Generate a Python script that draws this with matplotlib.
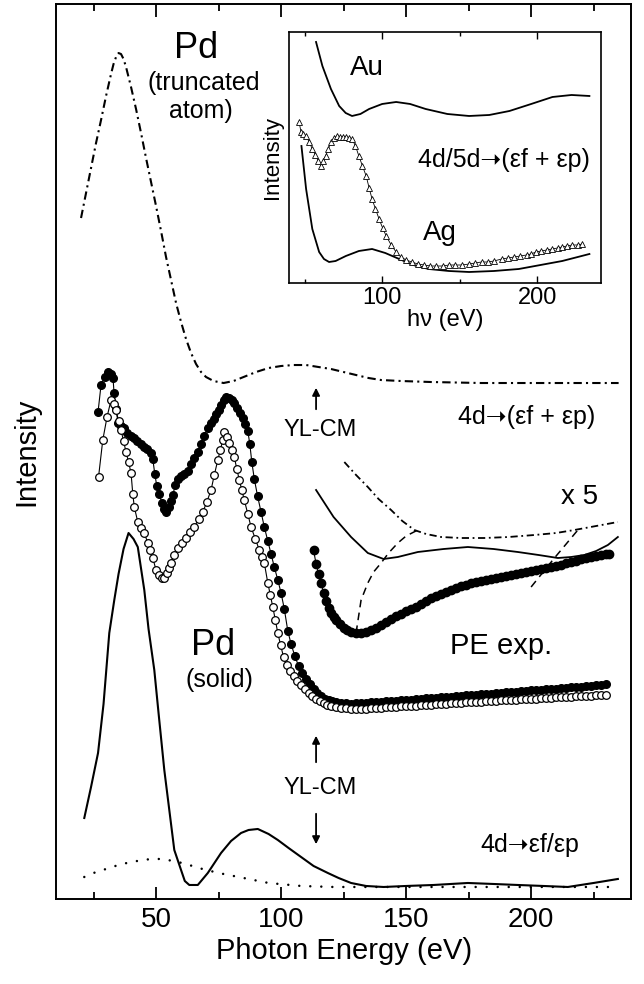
import numpy as np
import matplotlib.pyplot as plt

plt.rcParams['font.family'] = ['Liberation Sans', 'DejaVu Sans']

# ---- main panel data (photon energy in eV, intensity in arb. units) ----
trunc_E = [20, 22, 24, 26, 28, 30, 32, 33, 34, 35, 36, 37, 38, 40, 42, 44, 46, 48, 50, 52,
           54, 56, 58, 60, 62, 64, 66, 68, 70, 73, 77, 81, 85, 90, 95, 100, 105, 110, 115,
           120, 125, 130, 135, 140, 148, 160, 180, 200, 220, 235]
trunc_I = [681, 706, 731, 756, 779, 803, 825, 835, 842, 846, 845, 840, 832, 812, 790, 766, 741,
           717, 693, 668, 642, 619, 596, 577, 560, 546, 535, 527, 522, 518, 516, 518, 522, 527,
           531, 533, 534, 534, 532, 530, 527, 524, 521, 519, 518, 517, 516, 516, 516, 516]

solid_E = [21.3, 24, 26.8, 29, 31.3, 33.3, 35, 37, 39, 41, 42.7, 45.3, 47, 49.3, 51, 53.3, 55,
           57.3, 60, 61.5, 63.3, 66.7, 70.7, 76, 80, 84, 87, 90.7, 95, 98.7, 103, 108, 113,
           118.7, 123, 128, 134, 141, 150, 161, 174.7, 185, 194.7, 205, 214.7, 225, 234.7]
solid_I = [81, 112, 146, 195, 266, 299, 325, 350, 366, 360, 352, 309, 270, 229, 186, 129, 95,
           49, 29, 18, 14, 14, 26, 46, 58, 66, 69, 70, 65, 59, 51, 42, 33, 26, 21, 16, 13, 12,
           13, 14, 16, 15, 14, 13, 12, 16, 20]

dot_E = [21.3, 25, 30, 35, 40, 45, 48, 52, 57, 62, 67, 75, 85, 95, 108, 121, 140, 160, 180,
         200, 220, 235]
dot_I = [22, 26, 30, 34, 37, 39, 40, 40, 38, 35, 31, 26, 21, 16, 13, 12, 12, 12, 12, 12, 12, 12]

tail_E = [122, 124, 126, 128, 130, 132, 134, 136, 138, 140, 142, 144, 146, 148, 150, 152, 154,
          156, 158, 160, 162, 164, 166, 168, 170, 172, 174, 176, 178, 180, 182, 184, 186, 188,
          190, 192, 194, 196, 198, 200, 202, 204, 206, 208, 210, 212, 214, 216, 218, 220, 222,
          224, 226, 228, 230]

full_E = [26.8, 28, 29.5, 30.8, 32, 32.8, 33.2, 34, 34.8, 36, 37.2, 38.5, 40, 41.2, 42.5, 43.8,
          45.2, 46.5, 47.8, 48.7, 49.5, 50.3, 51.3, 52.3, 53.2, 54, 55, 55.8, 56.7, 57.7, 58.7,
          60, 61.3, 62.7, 64, 65.3, 66.7, 68, 69.3, 70.7, 72, 73, 74, 75, 76, 77, 78, 79, 80.2,
          81.3, 82.5, 83.6, 84.7, 85.7, 86.7, 87.5, 88.3, 89.3, 90.6, 92, 93.3, 94.7, 96, 97.3,
          98.7, 100, 101.3, 102.7, 104, 105.5, 107, 108.5, 110, 111.5, 113, 114.5, 116, 117.5,
          119, 120.5] + tail_E
full_I = [487, 514, 522, 527, 525, 521, 506, 490, 476, 473, 471, 466, 463, 461, 458, 455, 452,
          450, 446, 440, 425, 413, 405, 396, 390, 387, 392, 398, 404, 414, 420, 423, 425, 428,
          435, 441, 447, 455, 463, 471, 476, 480, 485, 489, 494, 499, 502, 501, 499, 496, 491,
          486, 481, 475, 468, 455, 437, 420, 403, 387, 372, 358, 345, 332, 319, 306, 290, 268,
          255, 243, 233, 226, 220, 215, 210, 206, 203, 200, 199, 198,
          197, 196, 196, 195, 196, 196, 196, 197, 197, 197, 198, 198, 198, 199, 199, 199, 200,
          200, 201, 201, 201, 202, 202, 202, 203, 203, 204, 204, 204, 205, 205, 205, 206, 206,
          207, 207, 207, 208, 208, 209, 209, 209, 210, 210, 210, 211, 211, 212, 212, 212, 213,
          213, 214, 214, 215]

open_E = [27, 28.7, 30.4, 32, 33, 34, 35, 36, 37, 38, 39, 40, 40.7, 41.3, 42.7, 44, 45.3, 46.7,
          47.7, 48.7, 50, 51.2, 52.2, 53.3, 54.5, 55.3, 56, 57.3, 58.7, 60.3, 62, 63.7, 65.3,
          67, 68.7, 70.3, 72, 73.3, 74.7, 75.7, 76.7, 77.3, 78.3, 79.3, 80.3, 81.3, 82.3, 83.3,
          84.3, 85.3, 86.7, 88, 89.7, 91.3, 92.3, 93.3, 94.7, 95.7, 96.7, 97.7, 98.7, 99.8, 101,
          102.3, 103.7, 105, 106.5, 108, 109.5, 111, 112.5, 114, 115.5, 117, 118.5, 120] + tail_E
open_I = [422, 459, 482, 499, 495, 489, 478, 469, 458, 447, 437, 426, 405, 392, 377, 371, 366,
          356, 349, 341, 329, 324, 321, 321, 326, 331, 336, 344, 351, 356, 361, 367, 372, 380,
          387, 397, 409, 424, 439, 449, 459, 467, 462, 456, 449, 442, 430, 419, 409, 399, 385,
          372, 360, 349, 342, 336, 316, 304, 292, 279, 266, 254, 242, 234, 228, 223, 218, 214,
          210, 206, 203, 200, 198, 196, 194, 193,
          192, 191, 191, 190, 190, 190, 190, 191, 191, 191, 192, 192, 192, 193, 193, 193, 193,
          194, 194, 194, 195, 195, 195, 196, 196, 196, 197, 197, 197, 197, 198, 198, 198, 199,
          199, 199, 199, 200, 200, 200, 200, 201, 201, 201, 202, 202, 202, 202, 203, 203, 203,
          203, 204, 204, 204]

# x5 magnified region
x5_E = [113, 114, 115, 116, 117, 118, 119, 120, 121, 122, 123.5, 125, 126.5, 128, 130, 132,
        134, 136, 138, 140, 142, 144, 146, 148, 150, 152, 154, 156, 158, 160, 162, 164, 166,
        168, 170, 172, 174, 176, 178, 180, 182, 184, 186, 188, 190, 192, 194, 196, 198, 200,
        202, 204, 206, 208, 210, 212, 214, 216, 218, 220, 222, 224, 226, 228, 230, 231]
x5_I = [349, 335, 325, 316, 306, 298, 291, 286, 282, 279, 275, 271, 269, 267, 266, 266, 267,
        269, 271, 274, 277, 280, 283, 285, 288, 290, 292, 295, 298, 301, 303, 305, 307, 309,
        311, 313, 314, 316, 317, 318, 319, 320, 321, 322, 323, 324, 325, 326, 327, 328, 329,
        330, 331, 332, 333, 334, 336, 337, 338, 340, 341, 342, 343, 344, 345, 345]

x5_solid_E = [114, 121, 128, 134.7, 141, 146.7, 154.7, 165, 174.7, 185, 194.7, 203, 210.7,
              216, 221.3, 226, 230.7, 234.7]
x5_solid_I = [409, 382, 362, 346, 340, 342, 347, 350, 352, 350, 347, 344, 341, 342, 344, 348,
              354, 362]

x5_trunc_E = [125.3, 130, 134.7, 139, 144, 148.5, 153.3, 158, 164, 172, 181.3, 191, 201.3,
              210, 217.3, 226, 234.7]
x5_trunc_I = [437, 424, 412, 400, 389, 378, 369, 365, 362, 361, 361, 362, 364, 366, 369, 373,
              377]

dash1_E = [130, 132, 134.7, 137, 140, 143, 146.7, 150, 154.7]
dash1_I = [266, 299, 316, 327, 336, 346, 356, 363, 369]
dash2_E = [200, 209, 218.7]
dash2_I = [312, 340, 369]

# ---- inset data ----
au_E = [57.4, 61.5, 67, 72.3, 76.5, 80.6, 86, 91.6, 100, 109, 118, 128, 142, 156, 169, 182,
        196, 209.7, 222, 233.5]
au_I = [241, 217, 194, 177, 170, 167, 169, 174, 179, 181, 179, 174, 169, 167, 168, 172, 179,
        186, 188, 187]
ag_E = [48, 51, 55, 59.4, 62.5, 65.8, 70, 76.6, 85, 93.5, 102, 111, 120, 130, 143, 156, 172,
        188, 202, 216, 226, 233.5]
ag_I = [137, 94, 54, 31, 24, 21, 22, 27, 32, 34, 30, 24, 18, 14, 12, 11, 12, 14, 18, 22, 26, 29]
agx_E = [46.5, 47.7, 49.3, 51, 53, 55, 57, 58.8, 60.6, 62, 63.6, 65.3, 67, 69, 71, 72.8, 74.6,
         76.6, 78.6, 80.6, 82.8, 85, 87.3, 89.7, 91.6, 93.5, 95.7, 98, 100.3, 102.6, 105.8,
         109, 112, 115.5, 119, 123, 127, 131, 134.8, 139, 143, 147, 151.5, 156, 160, 164, 168,
         172, 177, 181, 185, 189, 193, 196, 199, 202.5, 206, 209.5, 213, 216, 219, 222.5, 226,
         229]
agx_I = [161, 151, 149, 147, 141, 134, 128, 122, 117, 122, 127, 134, 141, 145, 147, 146, 146,
         146, 145, 144, 137, 127, 117, 107, 95, 84, 74, 64, 55, 47, 38, 31, 26, 23, 21, 19, 18,
         17, 17, 17, 18, 18, 18, 19, 20, 21, 21, 22, 24, 25, 26, 27, 28, 29, 31, 32, 33, 34,
         35, 36, 37, 38, 38, 39]

ddot = (0, (4, 2, 1, 2))
arrow = '\u279d'

fig = plt.figure(figsize=(6.44, 9.84), dpi=100)
ax = fig.add_axes([0.087, 0.0864, 0.893, 0.9095])

ax.plot(trunc_E, trunc_I, color='k', lw=1.5, linestyle=ddot)
ax.plot(solid_E, solid_I, color='k', lw=1.5)
ax.plot(dot_E, dot_I, color='k', lw=1.8, linestyle=(0, (0.01, 4.4)), dash_capstyle='round')
ax.plot(full_E, full_I, color='k', lw=0.8, marker='o', ms=5.5, mfc='k', mec='k')
ax.plot(open_E, open_I, color='k', lw=0.8, marker='o', ms=5.5, mfc='white', mec='k', mew=0.9)
ax.plot(x5_E, x5_I, color='k', lw=0.8, marker='o', ms=6, mfc='k', mec='k')
ax.plot(x5_solid_E, x5_solid_I, color='k', lw=1.3)
ax.plot(x5_trunc_E, x5_trunc_I, color='k', lw=1.3, linestyle=ddot)
ax.plot(dash1_E, dash1_I, color='k', lw=1.1, linestyle=(0, (5, 3.5)))
ax.plot(dash2_E, dash2_I, color='k', lw=1.1, linestyle=(0, (5, 3.5)))

arr = dict(arrowstyle='-|>', color='k', lw=1.3, mutation_scale=11)
ax.annotate('', xy=(114, 514), xytext=(114, 487), arrowprops=arr)
ax.annotate('', xy=(114, 166), xytext=(114, 134), arrowprops=arr)
ax.annotate('', xy=(114, 52), xytext=(114, 88), arrowprops=arr)
ax.text(115.6, 469, 'YL-CM', ha='center', va='center', fontsize=17)
ax.text(115.6, 111, 'YL-CM', ha='center', va='center', fontsize=17)

ax.text(66, 851, 'Pd', ha='center', va='center', fontsize=26)
ax.text(69.2, 816, '(truncated', ha='center', va='center', fontsize=18)
ax.text(68, 788, 'atom)', ha='center', va='center', fontsize=18)
ax.text(72.8, 253, 'Pd', ha='center', va='center', fontsize=26)
ax.text(75.2, 219, '(solid)', ha='center', va='center', fontsize=18)
ax.text(188, 253, 'PE exp.', ha='center', va='center', fontsize=21)
ax.text(198.4, 482, '4d' + arrow + '(\u03b5f + \u03b5p)', ha='center', va='center', fontsize=18)
ax.text(219.2, 402, 'x 5', ha='center', va='center', fontsize=20)
ax.text(199.6, 54, '4d' + arrow + '\u03b5f/\u03b5p', ha='center', va='center', fontsize=18)

ax.set_xlim(10, 240)
ax.set_ylim(0, 895)
ax.set_xticks([50, 100, 150, 200])
ax.set_xticks([25, 75, 125, 175, 225], minor=True)
ax.set_yticks([])
ax.tick_params(axis='x', which='both', direction='in', top=True, width=1.3, labelsize=20, pad=6)
ax.tick_params(axis='x', which='major', length=9)
ax.tick_params(axis='x', which='minor', length=5)
for s in ax.spines.values():
    s.set_linewidth(1.4)
ax.set_xlabel('Photon Energy (eV)', fontsize=21, labelpad=3)
ax.set_ylabel('Intensity', fontsize=21, labelpad=11)

# ---- inset ----
ins = fig.add_axes([0.4488, 0.7124, 0.4845, 0.2551])
ins.plot(au_E, au_I, color='k', lw=1.3)
ins.plot(ag_E, ag_I, color='k', lw=1.3)
ins.plot(agx_E, agx_I, color='k', lw=0.6, marker='^', ms=4.2, mfc='white', mec='k', mew=0.6)
ins.text(90.2, 215, 'Au', ha='center', va='center', fontsize=20)
ins.text(178.5, 123, '4d/5d' + arrow + '(\u03b5f + \u03b5p)', ha='center', va='center', fontsize=18)
ins.text(137.3, 50, 'Ag', ha='center', va='center', fontsize=20)
ins.set_xlim(40, 241)
ins.set_ylim(0, 251)
ins.set_xticks([100, 200])
ins.set_xticks([50, 150], minor=True)
ins.set_yticks([])
ins.tick_params(axis='x', which='both', direction='in', top=True, width=1.0, labelsize=17, pad=3)
ins.tick_params(axis='x', which='major', length=5)
ins.tick_params(axis='x', which='minor', length=3)
for s in ins.spines.values():
    s.set_linewidth(1.2)
ins.set_xlabel('h\u03bd (eV)', fontsize=17, labelpad=0)
ins.set_ylabel('Intensity', fontsize=16, labelpad=4)

fig.savefig('out.png', dpi=100)
